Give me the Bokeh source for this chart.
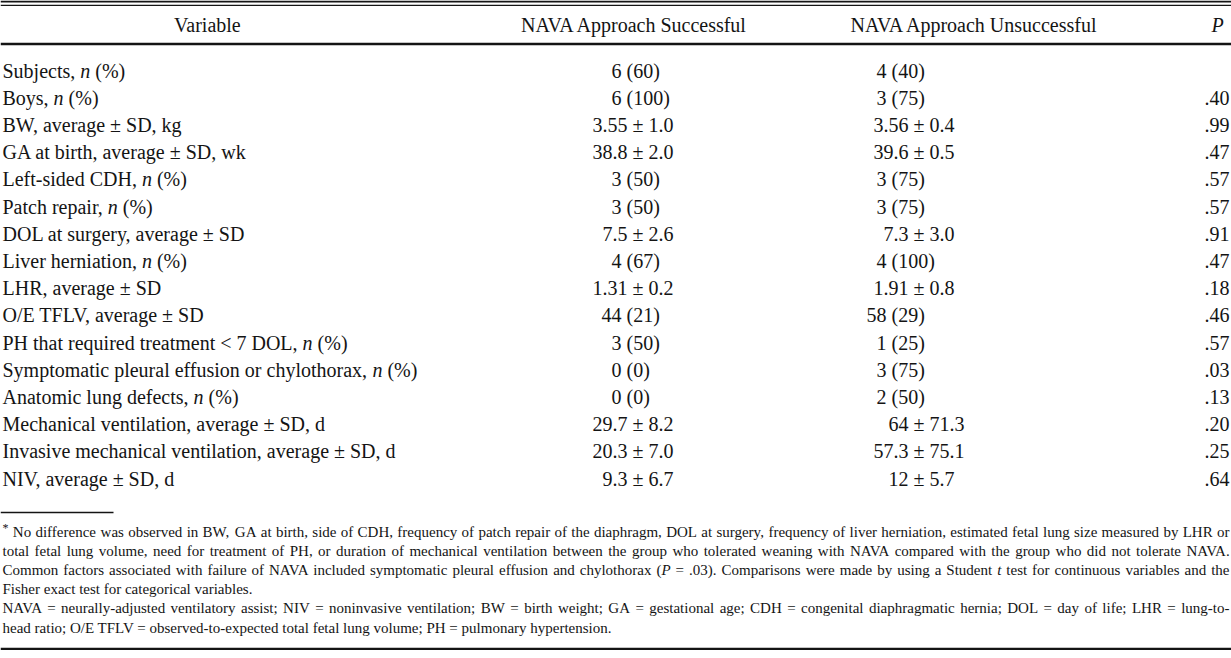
from bokeh.plotting import figure
from bokeh.models import Range1d
from bokeh.embed import file_html
from bokeh.resources import INLINE
from bokeh.core.properties import value

# ---------------- data ----------------
header_labels = ["Variable", "NAVA Approach Successful", "NAVA Approach Unsuccessful", "P"]

variables = [
    "Subjects, n (%)",
    "Boys, n (%)",
    "BW, average ± SD, kg",
    "GA at birth, average ± SD, wk",
    "Left-sided CDH, n (%)",
    "Patch repair, n (%)",
    "DOL at surgery, average ± SD",
    "Liver herniation, n (%)",
    "LHR, average ± SD",
    "O/E TFLV, average ± SD",
    "PH that required treatment < 7 DOL, n (%)",
    "Symptomatic pleural effusion or chylothorax, n (%)",
    "Anatomic lung defects, n (%)",
    "Mechanical ventilation, average ± SD, d",
    "Invasive mechanical ventilation, average ± SD, d",
    "NIV, average ± SD, d",
]
successful = ["6 (60)", "6 (100)", "3.55 ± 1.0", "38.8 ± 2.0", "3 (50)", "3 (50)",
              "7.5 ± 2.6", "4 (67)", "1.31 ± 0.2", "44 (21)", "3 (50)", "0 (0)",
              "0 (0)", "29.7 ± 8.2", "20.3 ± 7.0", "9.3 ± 6.7"]
unsuccessful = ["4 (40)", "3 (75)", "3.56 ± 0.4", "39.6 ± 0.5", "3 (75)", "3 (75)",
                "7.3 ± 3.0", "4 (100)", "1.91 ± 0.8", "58 (29)", "1 (25)", "3 (75)",
                "2 (50)", "64 ± 71.3", "57.3 ± 75.1", "12 ± 5.7"]
p_values = ["", ".40", ".99", ".47", ".57", ".57", ".91", ".47", ".18", ".46",
            ".57", ".03", ".13", ".20", ".25", ".64"]

footnote_main = [
    "* No difference was observed in BW, GA at birth, side of CDH, frequency of patch repair of the diaphragm, DOL at surgery, frequency of liver herniation, estimated fetal lung size measured by LHR or",
    "total fetal lung volume, need for treatment of PH, or duration of mechanical ventilation between the group who tolerated weaning with NAVA compared with the group who did not tolerate NAVA.",
    "Common factors associated with failure of NAVA included symptomatic pleural effusion and chylothorax (P = .03). Comparisons were made by using a Student t test for continuous variables and the",
    "Fisher exact test for categorical variables.",
]
footnote_abbrev = [
    "NAVA = neurally-adjusted ventilatory assist; NIV = noninvasive ventilation; BW = birth weight; GA = gestational age; CDH = congenital diaphragmatic hernia; DOL = day of life; LHR = lung-to-",
    "head ratio; O/E TFLV = observed-to-expected total fetal lung volume; PH = pulmonary hypertension.",
]

# ---------------- style / layout ----------------
FONT = "Liberation Serif"
INK = "#141414"
W, H = 1231, 650
FS = 20.0          # table font size
FS_NOTE = 15.0     # footnote font size
SUP_SCALE = 0.8
HEADER_Y = 24
ROW_Y0 = 70
ROW_STEP = 27.2
NOTE_Y0 = 531
NOTE_STEP = 19.2
LEFT_X = 2
RIGHT_X = 1229
HEADER_CX = [208, 634, 974, 1217]
COL2_ANCHOR = {"(": 626, "±": 632}
COL3_ANCHOR = {"(": 891, "±": 913}

# Times / Liberation Serif advance widths (per 1000 em)
ROMAN = {c: 500 for c in "0123456789"}
ROMAN.update({' ': 250, '%': 833, '(': 333, ')': 333, '*': 500, ',': 250, '-': 333,
              '.': 250, '/': 278, ':': 278, ';': 278, '<': 564, '=': 564, '>': 564, '±': 564})
ROMAN.update(dict(zip("ABCDEFGHIJKLMNOPQRSTUVWXYZ",
                      [722, 667, 667, 722, 611, 556, 722, 722, 333, 389, 722, 611, 889,
                       722, 722, 556, 722, 667, 556, 611, 722, 722, 944, 722, 722, 611])))
ROMAN.update(dict(zip("abcdefghijklmnopqrstuvwxyz",
                      [444, 500, 444, 500, 444, 333, 500, 500, 278, 278, 500, 278, 778,
                       500, 500, 500, 500, 333, 389, 278, 500, 500, 722, 500, 500, 444])))
ITALIC = dict(ROMAN)
ITALIC.update({'n': 500, 't': 278, 'P': 611})
KERN = {"AV": -135, "VA": -135, "LV": -100, "LT": -92, "y,": -65, "y.": -65,
        "r,": -40, "r.": -55, "v,": -65, "v.": -65, "w,": -65, "w.": -65}


def run_width(txt, style, fs):
    table = ITALIC if style == "italic" else ROMAN
    size = fs * SUP_SCALE if style == "sup" else fs
    w = sum(table.get(ch, 500) for ch in txt)
    if style == "normal":
        w += sum(KERN.get(txt[k:k + 2], 0) for k in range(len(txt) - 1))
    return w * size / 1000.0


def tokenize(text):
    words = text.split(" ")
    out = []
    for i, w in enumerate(words):
        nxt = words[i + 1] if i + 1 < len(words) else ""
        if w == "n" and nxt.startswith("(%)"):
            out.append([(w, "italic")])
        elif w == "t" or w == "P":
            out.append([(w, "italic")])
        elif w.startswith("(P"):
            out.append([("(", "normal"), ("P", "italic"), (w[2:], "normal")])
        elif w == "*":
            out.append([("*", "sup")])
        else:
            out.append([(w, "normal")])
    return out


items = {}


def emit(x, y, txt, style, fs):
    if not txt:
        return
    key = (style, fs)
    d = items.setdefault(key, {"x": [], "y": [], "text": []})
    if style == "sup":
        y = y - fs * 0.25
    d["x"].append(x)
    d["y"].append(y)
    d["text"].append(txt)


def word_width(word, fs):
    return sum(run_width(t, s, fs) for t, s in word)


def merged_runs(words):
    """Merge words of the same style into runs; returns list of (text, style, space_before)."""
    runs = []
    for wi, wd in enumerate(words):
        for ri, (t, s) in enumerate(wd):
            if not t:
                continue
            space_before = (wi > 0 and ri == 0)
            if runs and runs[-1][1] == s and s != "sup":
                prev_t, prev_s, prev_sp = runs[-1]
                runs[-1] = (prev_t + (" " if space_before else "") + t, s, prev_sp)
            else:
                runs.append((t, s, space_before))
    return runs


def line_width(text, fs):
    space = ROMAN[' '] * fs / 1000.0
    w = 0.0
    for t, s, sp in merged_runs(tokenize(text)):
        w += (space if sp else 0.0) + run_width(t, s, fs)
    return w


def place_line(text, x0, y, fs, justify_to=None):
    words = tokenize(text)
    if justify_to is None:
        space = ROMAN[' '] * fs / 1000.0
        x = x0
        for t, s, sp in merged_runs(words):
            if sp:
                x += space
            emit(x, y, t, s, fs)
            x += run_width(t, s, fs)
        return
    widths = [word_width(wd, fs) for wd in words]
    gap = (justify_to - x0 - sum(widths)) / max(len(words) - 1, 1)
    x = x0
    for wd, ww in zip(words, widths):
        xx = x
        for t, s in wd:
            emit(xx, y, t, s, fs)
            xx += run_width(t, s, fs)
        x += ww + gap


def place_centered(text, cx, y, fs):
    place_line(text, cx - line_width(text, fs) / 2.0, y, fs)


def place_anchored(text, anchors, y, fs):
    for ch, ax in anchors.items():
        if ch in text:
            prefix = text[:text.index(ch)]
            emit(ax - run_width(prefix, "normal", fs), y, text, "normal", fs)
            return


# header
for lab, cx in zip(header_labels, HEADER_CX):
    place_centered(lab, cx, HEADER_Y, FS)

# body rows
for i, (var, s, u, pv) in enumerate(zip(variables, successful, unsuccessful, p_values)):
    y = ROW_Y0 + i * ROW_STEP
    place_line(var, LEFT_X, y, FS)
    place_anchored(s, COL2_ANCHOR, y, FS)
    place_anchored(u, COL3_ANCHOR, y, FS)
    if pv:
        emit(RIGHT_X - run_width(pv, "normal", FS), y, pv, "normal", FS)

# footnotes
all_notes = [(footnote_main, 0), (footnote_abbrev, len(footnote_main))]
for lines, offset in all_notes:
    for j, line in enumerate(lines):
        y = NOTE_Y0 + (offset + j) * NOTE_STEP
        last = (j == len(lines) - 1)
        place_line(line, LEFT_X, y, FS_NOTE, justify_to=None if last else RIGHT_X)

# ---------------- figure ----------------
p = figure(width=W, height=H, x_range=Range1d(0, W), y_range=Range1d(H, 0),
           output_backend="svg", toolbar_location=None, min_border=0,
           x_axis_location=None, y_axis_location=None)
p.grid.visible = False
p.outline_line_color = None
p.background_fill_color = "white"
p.border_fill_color = "white"

# rules: (x0, x1, y, width)
rules = [
    (0, W, 1.0, 2.2),
    (0, W, 4.8, 1.2),
    (0, W, 43.5, 2.4),
    (0, 113, 512.0, 1.4),
    (0, W, 648.5, 2.6),
]
for x0, x1, y, lw in rules:
    p.segment(x0=[x0], x1=[x1], y0=[y], y1=[y], line_color=INK, line_width=lw)

for (style, fs), d in items.items():
    size = fs * SUP_SCALE if style == "sup" else fs
    p.text(x=d["x"], y=d["y"], text=d["text"], text_font=value(FONT),
           text_font_size=f"{size:.1f}px",
           text_font_style="italic" if style == "italic" else "normal",
           text_align="left", text_baseline="middle", text_color=INK)

open("out.html", "w").write(file_html(p, INLINE))
